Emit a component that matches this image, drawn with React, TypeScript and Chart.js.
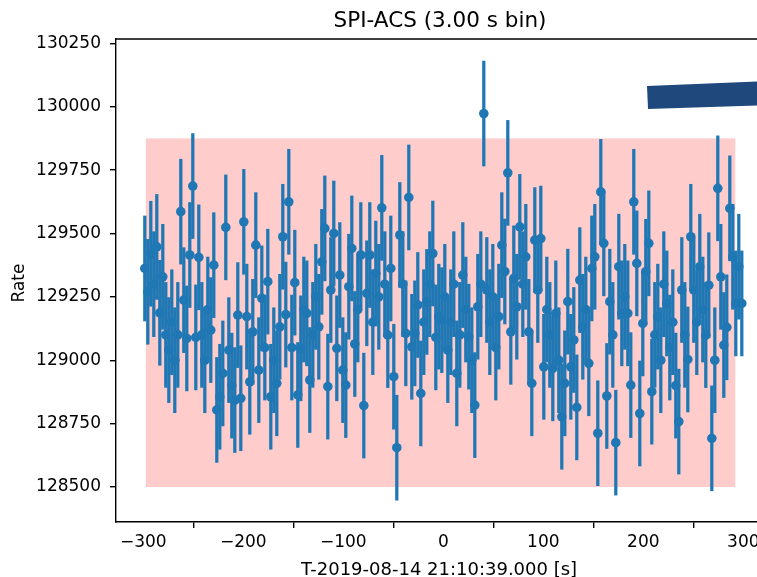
import React, { useEffect, useRef } from "react";
import { Chart, registerables } from "chart.js";

Chart.register(...registerables);

// ---- data (bin centres in s relative to trigger, rates in counts/s) ----
const times = [
  -298.5, -295.5, -292.5, -289.5, -286.5, -283.5, -280.5, -277.5, -274.5, -271.5,
  -268.5, -265.5, -262.5, -259.5, -256.5, -253.5, -250.5, -247.5, -244.5, -241.5,
  -238.5, -235.5, -232.5, -229.5, -226.5, -223.5, -220.5, -217.5, -214.5, -211.5,
  -208.5, -205.5, -202.5, -199.5, -196.5, -193.5, -190.5, -187.5, -184.5, -181.5,
  -178.5, -175.5, -172.5, -169.5, -166.5, -163.5, -160.5, -157.5, -154.5, -151.5,
  -148.5, -145.5, -142.5, -139.5, -136.5, -133.5, -130.5, -127.5, -124.5, -121.5,
  -118.5, -115.5, -112.5, -109.5, -106.5, -103.5, -100.5, -97.5, -94.5, -91.5,
  -88.5, -85.5, -82.5, -79.5, -76.5, -73.5, -70.5, -67.5, -64.5, -61.5,
  -58.5, -55.5, -52.5, -49.5, -46.5, -43.5, -40.5, -37.5, -34.5, -31.5,
  -28.5, -25.5, -22.5, -19.5, -16.5, -13.5, -10.5, -7.5, -4.5, -1.5,
  1.5, 4.5, 7.5, 10.5, 13.5, 16.5, 19.5, 22.5, 25.5, 28.5,
  31.5, 34.5, 37.5, 40.5, 43.5, 46.5, 49.5, 52.5, 55.5, 58.5,
  61.5, 64.5, 67.5, 70.5, 73.5, 76.5, 79.5, 82.5, 85.5, 88.5,
  91.5, 94.5, 97.5, 100.5, 103.5, 106.5, 109.5, 112.5, 115.5, 118.5,
  121.5, 124.5, 127.5, 130.5, 133.5, 136.5, 139.5, 142.5, 145.5, 148.5,
  151.5, 154.5, 157.5, 160.5, 163.5, 166.5, 169.5, 172.5, 175.5, 178.5,
  181.5, 184.5, 187.5, 190.5, 193.5, 196.5, 199.5, 202.5, 205.5, 208.5,
  211.5, 214.5, 217.5, 220.5, 223.5, 226.5, 229.5, 232.5, 235.5, 238.5,
  241.5, 244.5, 247.5, 250.5, 253.5, 256.5, 259.5, 262.5, 265.5, 268.5,
  271.5, 274.5, 277.5, 280.5, 283.5, 286.5, 289.5, 292.5, 295.5, 298.5,
];

const rates = [
  129362, 129270, 129420, 129300, 129447, 129187, 129329, 129100, 129040, 129150,
  129000, 129100, 129586, 129237, 129086, 129415, 129687, 129090, 129406, 129100,
  129000, 129200, 129119, 129375, 128804, 128856, 128948, 129524, 129040, 128900,
  128843, 129178,
  128850, 129546, 129172, 128915, 129112, 129454, 128961, 129244, 129050, 129310,
  128856, 129000, 128909, 129132, 129487, 129180, 129625, 129050, 129306, 128863,
  129047, 129200, 129185, 128922, 129100, 129250, 129132, 129388, 129520, 128896,
  129277, 129500, 129047,
  129336, 128961, 128902, 129290, 129441, 129064, 129200, 129415, 128821, 129264,
  129415, 129150, 129342, 129250, 129601, 129300, 129099, 129362, 128935, 128655,
  129494, 129300, 129106, 129642, 129053, 129106, 129218, 128869, 129150, 129230,
  129300, 129421, 129090, 129172,
  129158, 129250, 129040, 129150, 129300, 128948, 129100, 129336, 129200, 129093,
  129000, 128823, 129211, 129300, 129973, 129277, 129150, 129250, 129050, 129172,
  129454, 129350, 129739, 129112, 129323, 129211, 129526, 129300, 129408, 129112,
  128909, 129474, 129277, 129480,
  128974, 129200, 129100, 128968, 129185, 129000, 128777, 128909, 129231, 128974,
  129080, 128814, 129316, 129132, 129200, 128988, 129362, 129408, 128712, 129664,
  129461, 128859, 129231, 129100, 128675, 129369, 129185, 129250, 129185, 128902,
  129625, 129382, 128790,
  129145, 129349, 129461, 128876, 129100, 129172, 129000, 129300, 129224, 129050,
  129150, 128900, 128758, 129277, 129100, 129003, 129487, 129277, 129150, 129369,
  129200, 129099, 129296, 128692, 129000, 129678, 129329, 129060, 129130, 129599,
  129408, 129224, 129369, 129224,
];

const rateError = 207;

const xTicks = [-300, -200, -100, 0, 100, 200, 300];
const yTicks = [128500, 128750, 129000, 129250, 129500, 129750, 130000, 130250];

const spanStart = -297.5;
const spanEnd = 292;
const spanLow = 128500;
const spanHigh = 129875;

const xMin = -327.3;
const xMax = 320.7;
const yMin = 128362;
const yMax = 130267;

const titleText = "SPI-ACS (3.00 s bin)";
const xLabel = "T-2019-08-14 21:10:39.000 [s]";
const yLabel = "Rate";

const FONT = "'DejaVu Sans', 'Liberation Sans', sans-serif";
const BLUE = "#1f77b4";

const decorPlugin = {
  id: "decor",
  beforeDatasetsDraw(chart: any) {
    const { ctx, scales } = chart;
    const x = scales.x;
    const y = scales.y;
    const x0 = x.getPixelForValue(spanStart);
    const x1 = x.getPixelForValue(spanEnd);
    const y0 = y.getPixelForValue(spanHigh);
    const y1 = y.getPixelForValue(spanLow);
    ctx.save();
    ctx.fillStyle = "rgba(255,0,0,0.2)";
    ctx.fillRect(x0, y0, x1 - x0, y1 - y0);
    ctx.restore();
  },
  afterDraw(chart: any) {
    const { ctx, chartArea } = chart;
    ctx.save();
    ctx.strokeStyle = "#000";
    ctx.lineWidth = 1.4;
    ctx.beginPath();
    ctx.moveTo(chartArea.left, chartArea.top);
    ctx.lineTo(chartArea.right, chartArea.top);
    ctx.lineTo(chartArea.right, chartArea.bottom);
    ctx.stroke();

    ctx.fillStyle = "#000";
    ctx.textAlign = "center";
    ctx.textBaseline = "alphabetic";
    ctx.font = `21.5px ${FONT}`;
    ctx.fillText(titleText, 440, 26.5);

    ctx.font = `18px ${FONT}`;
    ctx.fillText(xLabel, 439, 575);

    ctx.font = `17px ${FONT}`;
    ctx.translate(23.5, 283);
    ctx.rotate(-Math.PI / 2);
    ctx.fillText(yLabel, 0, 0);
    ctx.restore();
  },
};

const fmt = (v: number) => String(v).replace("-", "\u2212");

export default function App() {
  const canvasRef = useRef<HTMLCanvasElement | null>(null);

  useEffect(() => {
    const canvas = canvasRef.current;
    if (!canvas) return;

    const errorBars = times.map((t, i) => ({ x: t, y: [rates[i] - rateError, rates[i] + rateError] }));
    const points = times.map((t, i) => ({ x: t, y: rates[i] }));

    const chart = new Chart(canvas, {
      type: "scatter",
      data: {
        datasets: [
          {
            type: "bar",
            data: errorBars as any,
            backgroundColor: BLUE,
            borderWidth: 0,
            barThickness: 2.6,
            grouped: false,
          } as any,
          {
            type: "scatter",
            data: points,
            backgroundColor: BLUE,
            borderWidth: 0,
            pointRadius: 4.8,
            pointHoverRadius: 4.8,
          } as any,
        ],
      },
      options: {
        responsive: false,
        maintainAspectRatio: false,
        devicePixelRatio: 1,
        animation: false,
        events: [],
        layout: { padding: { top: 39, right: 36, left: 0, bottom: 0 } },
        plugins: {
          legend: { display: false },
          tooltip: { enabled: false },
          title: { display: false },
        },
        scales: {
          x: {
            type: "linear",
            min: xMin,
            max: xMax,
            offset: false,
            afterBuildTicks: (scale: any) => {
              scale.ticks = xTicks.map((v) => ({ value: v }));
            },
            afterFit: (scale: any) => {
              scale.height = 55;
            },
            ticks: {
              color: "#000",
              font: { family: FONT, size: 17 },
              padding: 4,
              maxRotation: 0,
              autoSkip: false,
              callback: (v: any) => fmt(Number(v)),
            },
            grid: {
              display: true,
              drawOnChartArea: false,
              drawTicks: true,
              tickLength: 6,
              color: "#000",
              lineWidth: 1.4,
            },
            border: { display: true, color: "#000", width: 1.4 },
          },
          y: {
            type: "linear",
            min: yMin,
            max: yMax,
            afterBuildTicks: (scale: any) => {
              scale.ticks = yTicks.map((v) => ({ value: v }));
            },
            afterFit: (scale: any) => {
              scale.width = 116;
            },
            ticks: {
              color: "#000",
              font: { family: FONT, size: 17 },
              padding: 9,
              autoSkip: false,
              callback: (v: any) => fmt(Number(v)),
            },
            grid: {
              display: true,
              drawOnChartArea: false,
              drawTicks: true,
              tickLength: 6,
              color: "#000",
              lineWidth: 1.4,
            },
            border: { display: true, color: "#000", width: 1.4 },
          },
        },
      } as any,
      plugins: [decorPlugin],
    });

    return () => {
      chart.destroy();
    };
  }, []);

  return (
    <div
      style={{
        position: "fixed",
        left: 0,
        top: 0,
        width: 757,
        height: 577,
        overflow: "hidden",
        background: "#fff",
      }}
    >
      <canvas
        ref={canvasRef}
        width={800}
        height={577}
        style={{ display: "block", width: 800, height: 577 }}
      />
      <div
        style={{
          position: "absolute",
          left: 640,
          top: 75,
          width: 117,
          height: 40,
          background: "#1f497d",
          clipPath: "polygon(7px 11px, 117px 6.5px, 117px 30.5px, 8px 34px)",
        }}
      />
    </div>
  );
}
